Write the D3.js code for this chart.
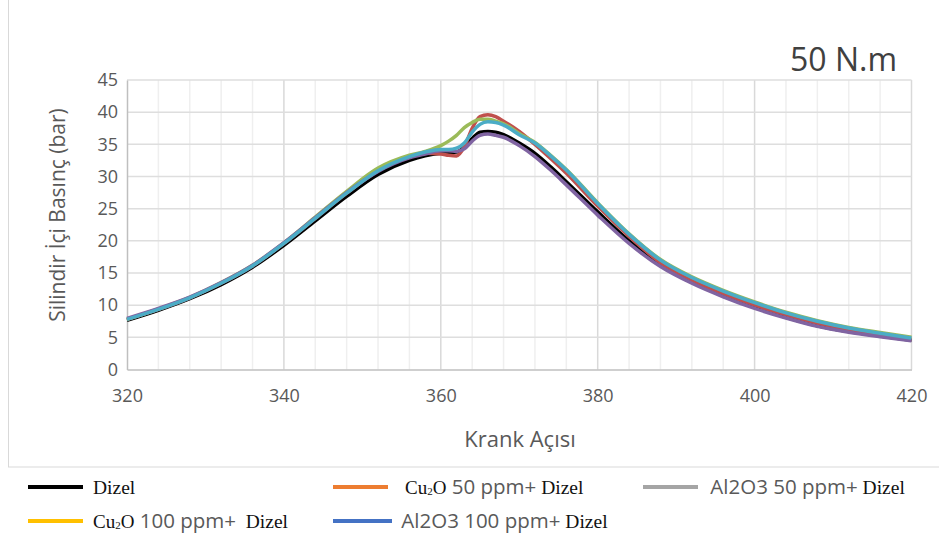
<!DOCTYPE html>
<html lang="tr">
<head>
<meta charset="UTF-8">
<title>Silindir İçi Basınç - 50 N.m</title>
<script src="https://cdn.jsdelivr.net/npm/d3@7"></script>
<style>
    html, body { margin: 0; padding: 0; background: #fff; }
    svg text { font-family: "Open Sans", sans-serif; }
    .tick text { fill: #595959; font-size: 18px; }
    .serif { font-family: "Liberation Serif", "DejaVu Serif", serif; fill: #111; }
</style>
</head>
<body>
<svg id="chart" width="939" height="540"></svg>
<script>
    // crank angle samples shared by all series
    var angles = [320, 324, 328, 332, 336, 340, 344, 348, 352, 356, 358, 360, 361, 362, 363, 364, 365, 366, 367, 368,
        370, 372, 374, 376, 380, 384, 388, 392, 396, 400, 404, 408, 412, 416, 420];

    var dizel = [7.65, 9.2, 11.0, 13.2, 15.9, 19.3, 23.1, 26.9, 30.3, 32.5, 33.2, 33.6, 33.7, 33.8, 34.6, 35.9, 36.9, 37.0, 36.9, 36.5,
        35.2, 33.6, 31.5, 29.2, 24.5, 20.0, 16.3, 13.6, 11.5, 9.7, 8.1, 6.8, 5.9, 5.2, 4.55];
    var cu50 = [7.8, 9.35, 11.15, 13.4, 16.1, 19.6, 23.5, 27.4, 30.9, 33.1, 33.6, 33.5, 33.3, 33.2, 34.6, 37.5, 39.3, 39.6, 39.3, 38.6,
        37.0, 35.0, 32.8, 30.5, 25.4, 20.7, 16.6, 13.9, 11.8, 10.0, 8.5, 7.2, 6.2, 5.4, 4.7];
    var al50 = [7.8, 9.4, 11.2, 13.5, 16.2, 19.7, 23.7, 27.7, 31.3, 33.3, 33.9, 34.8, 35.5, 36.4, 37.6, 38.4, 38.9, 38.9, 38.6, 38.2,
        36.7, 35.3, 33.3, 31.1, 25.9, 21.1, 17.1, 14.4, 12.3, 10.5, 8.9, 7.6, 6.55, 5.75, 5.0];
    var cu100 = [7.95, 9.5, 11.25, 13.5, 16.2, 19.7, 23.6, 27.5, 30.8, 32.9, 33.5, 34.0, 34.0, 33.9, 34.3, 35.5, 36.4, 36.6, 36.4, 36.1,
        34.8, 33.1, 31.0, 28.7, 24.0, 19.6, 16.0, 13.4, 11.3, 9.5, 8.0, 6.7, 5.8, 5.1, 4.45];
    var al100 = [7.8, 9.35, 11.15, 13.4, 16.1, 19.6, 23.5, 27.4, 30.9, 33.1, 33.8, 34.2, 34.2, 34.4, 35.2, 36.9, 38.1, 38.5, 38.4, 38.0,
        36.5, 35.2, 33.2, 31.0, 25.8, 21.0, 17.0, 14.3, 12.2, 10.4, 8.8, 7.5, 6.45, 5.65, 4.9];

    var xTicks = [320, 340, 360, 380, 400, 420];
    var yTicks = [0, 5, 10, 15, 20, 25, 30, 35, 40, 45];

    // plotted line colours (as in the picture) and legend swatch colours
    var series = [
        { values: dizel, color: "#000000" },
        { values: cu50, color: "#c0504d" },
        { values: al50, color: "#9bbb59" },
        { values: cu100, color: "#8064a2" },
        { values: al100, color: "#4bacc6" }
    ];

    var legendItems = [
        { color: "#000000", parts: [["s", "Dizel"]] },
        { color: "#ed7d31", parts: [["cu"], ["n", "50 ppm+"], ["s", " Dizel"]] },
        { color: "#a5a5a5", parts: [["n", "Al2O3 50 ppm+"], ["s", " Dizel"]] },
        { color: "#ffc000", parts: [["cu"], ["n", "100 ppm+"], ["s", "  Dizel"]] },
        { color: "#4472c4", parts: [["n", "Al2O3 100 ppm+"], ["s", " Dizel"]] }
    ];

    var svg = d3.select("#chart");

    var x = d3.scaleLinear().domain([320, 420]).range([127, 911.5]),
        y = d3.scaleLinear().domain([0, 45]).range([369.5, 80]);

    // outer chart border
    svg.append("rect")
        .attr("x", 8.5).attr("y", -1)
        .attr("width", 940).attr("height", 468)
        .attr("fill", "none")
        .attr("stroke", "#d9d9d9");

    var grid = svg.append("g");

    // minor vertical gridlines every 4 degrees
    grid.selectAll(".vminor")
        .data(d3.range(324, 420, 4).filter(d => (d - 320) % 20 != 0))
        .enter().append("line")
        .attr("x1", d => x(d)).attr("x2", d => x(d))
        .attr("y1", y(45)).attr("y2", y(0))
        .attr("stroke", "#efefef").attr("stroke-width", 1.5);

    grid.selectAll(".vmajor")
        .data(xTicks.slice(1))
        .enter().append("line")
        .attr("x1", d => x(d)).attr("x2", d => x(d))
        .attr("y1", y(45)).attr("y2", y(0))
        .attr("stroke", "#d9d9d9").attr("stroke-width", 1.5);

    grid.selectAll(".h")
        .data(yTicks.slice(1))
        .enter().append("line")
        .attr("x1", x(320)).attr("x2", x(420))
        .attr("y1", d => y(d)).attr("y2", d => y(d))
        .attr("stroke", "#dedede").attr("stroke-width", 1.5);

    // axes
    var xAxis = svg.append("g")
        .attr("transform", "translate(0," + y(0) + ")")
        .call(d3.axisBottom(x).tickValues(xTicks).tickSize(0).tickPadding(20));
    xAxis.select(".domain").attr("stroke", "#bfbfbf").attr("stroke-width", 1.5);

    var yAxis = svg.append("g")
        .attr("transform", "translate(" + x(320) + ",0)")
        .call(d3.axisLeft(y).tickValues(yTicks).tickSize(0).tickPadding(9));
    yAxis.select(".domain").attr("stroke", "#bfbfbf").attr("stroke-width", 1.5);

    // curves
    var line = d3.line()
        .x((d, i) => x(angles[i]))
        .y(d => y(d))
        .curve(d3.curveMonotoneX);

    svg.append("g").selectAll("path")
        .data(series)
        .enter().append("path")
        .attr("d", d => line(d.values))
        .attr("fill", "none")
        .attr("stroke", d => d.color)
        .attr("stroke-width", 3.5)
        .attr("stroke-linejoin", "round");

    // titles
    svg.append("text")
        .attr("x", 897).attr("y", 71)
        .attr("text-anchor", "end")
        .attr("fill", "#404040")
        .style("font-size", "32px")
        .text("50 N.m");

    svg.append("text")
        .attr("x", 520).attr("y", 447)
        .attr("text-anchor", "middle")
        .attr("fill", "#595959")
        .style("font-size", "22px")
        .text("Krank Açısı");

    svg.append("text")
        .attr("transform", "translate(65,215) rotate(-90)")
        .attr("text-anchor", "middle")
        .attr("fill", "#595959")
        .style("font-size", "21px")
        .text("Silindir İçi Basınç (bar)");

    // legend
    var legendPos = [[28, 487], [333, 487], [643, 487], [28, 521], [333, 521]];
    var textStart = [65, 72, 62, 65, 63];

    legendItems.forEach(function (item, i) {
        var p = legendPos[i];
        var g = svg.append("g").attr("transform", "translate(" + p[0] + "," + p[1] + ")");
        g.append("line")
            .attr("x1", 0).attr("x2", i == 4 ? 59 : 55)
            .attr("y1", 0).attr("y2", 0)
            .attr("stroke", item.color).attr("stroke-width", 4);

        var t = g.append("text")
            .attr("x", textStart[i])
            .attr("y", 7)
            .attr("xml:space", "preserve");
        item.parts.forEach(function (part) {
            if (part[0] == "cu") {
                t.append("tspan").attr("class", "serif").style("font-size", "19px").text("Cu");
                t.append("tspan").attr("class", "serif").style("font-size", "11px").attr("dy", 1).text("2");
                t.append("tspan").attr("class", "serif").style("font-size", "19px").attr("dy", -1).text("O");
            } else if (part[0] == "s") {
                t.append("tspan").attr("class", "serif").style("font-size", "19.5px").text(part[1]);
            } else {
                t.append("tspan").attr("fill", "#595959").style("font-size", "20.5px").text(" " + part[1]);
            }
        });
    });
</script>
</body>
</html>
